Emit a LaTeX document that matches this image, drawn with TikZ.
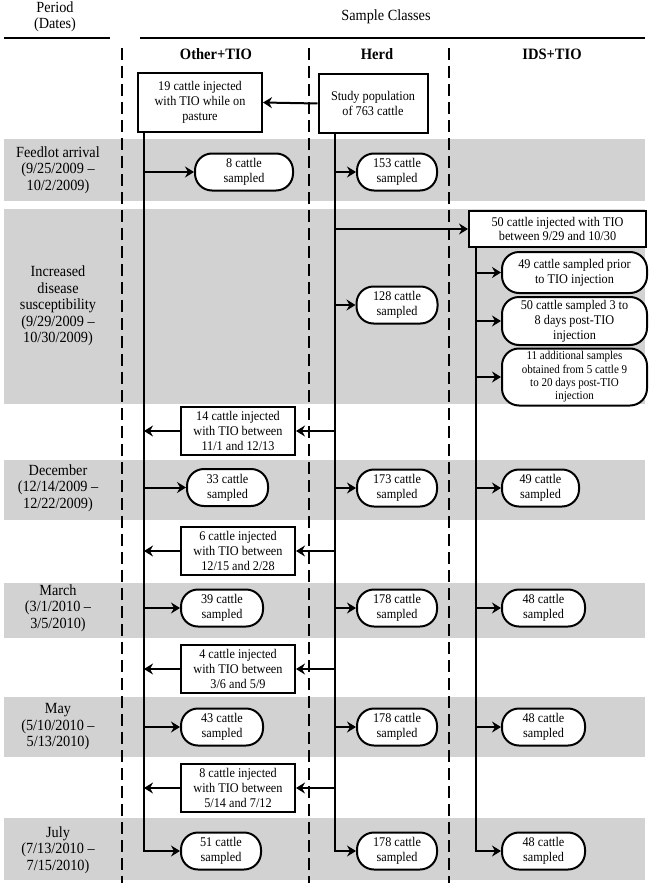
\documentclass[tikz,border=0pt]{standalone}
\usepackage{fontspec}
\setmainfont{Liberation Serif}[FakeStretch=0.92]
\usetikzlibrary{arrows.meta}
\definecolor{bandgray}{RGB}{210,210,210}
\newcommand\boxfnt{\fontsize{13.3}{14.8}\selectfont}
\newcommand\smallfnt{\fontsize{12}{13.3}\selectfont}
\newcommand\bandfnt{\fontsize{15.5}{16.5}\selectfont}
\newcommand\hdrfnt{\fontsize{15.8}{17}\selectfont\bfseries}
\begin{document}
\begin{tikzpicture}[x=1pt,y=-1pt,
  sq/.style={draw,line width=2pt,fill=white,align=center,inner sep=0pt,font=\boxfnt},
  rr/.style={sq,rounded corners=17pt},
  smp/.style={rr,minimum height=37pt},
  gapbox/.style={sq,minimum width=114pt,minimum height=48pt},
  lbl/.style={align=center,font=\bandfnt,inner sep=0pt},
  hdr/.style={font=\hdrfnt,inner sep=0pt},
  arr/.style={line width=2pt,line join=miter,-{Stealth[length=9pt,width=11pt,inset=3pt]}},
  rulebar/.style={line width=2.5pt},
  sep/.style={line width=2.5pt,dash pattern=on 12pt off 6pt},
  band/.style={fill=bandgray}]

\useasboundingbox (0,0) rectangle (650,883);

% bands
\fill[band] (4,139) rectangle (645,201);
\fill[band] (4,209) rectangle (645,404);
\fill[band] (4,460) rectangle (645,520);
\fill[band] (4,583) rectangle (645,638);
\fill[band] (4,697) rectangle (645,757);
\fill[band] (4,818) rectangle (645,880);

% dashed separators
\coordinate (s1t) at (122,48); \coordinate (s1b) at (122,883);
\coordinate (s2t) at (309,48); \coordinate (s2b) at (309,883);
\coordinate (s3t) at (449,48); \coordinate (s3b) at (449,883);
\draw[sep] (s1t) -- (s1b);
\draw[sep] (s2t) -- (s2b);
\draw[sep] (s3t) -- (s3b);

% headers
\node[lbl] (per) at (55,17) {Period\\(Dates)};
\node[lbl] (sc) at (386,17) {Sample Classes};
\coordinate (pl1) at (4,38); \coordinate (pl2) at (110,38);
\coordinate (sl1) at (140,38); \coordinate (sl2) at (645,38);
\draw[rulebar] (pl1) -- (pl2);
\draw[rulebar] (sl1) -- (sl2);
\node[hdr] (c1) at (216,54) {Other+TIO};
\node[hdr] (c2) at (377,54) {Herd};
\node[hdr] (c3) at (552,54) {IDS+TIO};

% period labels
\node[lbl] (p1) at (58,170) {Feedlot arrival\\(9/25/2009 --\\10/2/2009)};
\node[lbl] (p2) at (58,306) {Increased\\disease\\susceptibility\\(9/29/2009 --\\10/30/2009)};
\node[lbl] (p3) at (58,488) {December\\(12/14/2009 --\\12/22/2009)};
\node[lbl] (p4) at (58,608) {March\\(3/1/2010 --\\3/5/2010)};
\node[lbl] (p5) at (58,727) {May\\(5/10/2010 --\\5/13/2010)};
\node[lbl] (p6) at (58,850) {July\\(7/13/2010 --\\7/15/2010)};

% top boxes
\node[sq,minimum width=124pt,minimum height=59pt] (A) at (200,102.5) {19 cattle injected\\with TIO while on\\pasture};
\node[sq,minimum width=109pt,minimum height=59pt] (B) at (373,103.5) {Study population\\of 763 cattle};

% Other+TIO column
\node[smp,minimum width=98pt] (O1) at (244,172) {8 cattle\\sampled};
\node[gapbox] (G1) at (238,431) {14 cattle injected\\with TIO between\\11/1 and 12/13};
\node[smp,minimum width=81pt] (O2) at (227.5,487.5) {33 cattle\\sampled};
\node[gapbox] (G2) at (238,551) {6 cattle injected\\with TIO between\\12/15 and 2/28};
\node[smp,minimum width=82pt] (O3) at (222,608) {39 cattle\\sampled};
\node[gapbox] (G3) at (238,669) {4 cattle injected\\with TIO between\\3/6 and 5/9};
\node[smp,minimum width=82pt] (O4) at (222,727) {43 cattle\\sampled};
\node[gapbox] (G4) at (238,788) {8 cattle injected\\with TIO between\\5/14 and 7/12};
\node[smp,minimum width=80pt] (O5) at (221,851) {51 cattle\\sampled};

% Herd column
\node[smp,minimum width=80pt] (H1) at (397,172) {153 cattle\\sampled};
\node[smp,minimum width=81pt] (H2) at (397,305) {128 cattle\\sampled};
\node[smp,minimum width=80pt] (H3) at (397,488) {173 cattle\\sampled};
\node[smp,minimum width=80pt] (H4) at (397,608) {178 cattle\\sampled};
\node[smp,minimum width=80pt] (H5) at (397,727) {178 cattle\\sampled};
\node[smp,minimum width=80pt] (H6) at (397,851) {178 cattle\\sampled};

% IDS+TIO column
\node[sq,minimum width=177pt,minimum height=36pt] (I0) at (557.5,229) {50 cattle injected with TIO\\between 9/29 and 10/30};
\node[rr,minimum width=145pt,minimum height=41pt] (I1) at (574.5,272.5) {49 cattle sampled prior\\to TIO injection};
\node[rr,minimum width=145pt,minimum height=48pt] (I2) at (574.5,321) {50 cattle sampled 3 to\\8 days post-TIO\\injection};
\node[rr,minimum width=145pt,minimum height=57pt,font=\smallfnt] (I3) at (574.5,377) {11 additional samples\\obtained from 5 cattle 9\\to 20 days post-TIO\\injection};
\node[smp,minimum width=77pt] (I4) at (540.5,488) {49 cattle\\sampled};
\node[smp,minimum width=83pt] (I5) at (543.5,608) {48 cattle\\sampled};
\node[smp,minimum width=83pt] (I6) at (543.5,727) {48 cattle\\sampled};
\node[smp,minimum width=83pt] (I7) at (543.5,851) {48 cattle\\sampled};

% trunk coordinates
\coordinate (ot) at ([xshift=7pt]A.south west);
\coordinate (ht) at ([xshift=17pt]B.south west);
\coordinate (it) at ([xshift=8pt]I0.south west);

% connectors
\draw[arr] (B.west) -- (A.east);

\draw[arr] (ot) |- (O5.west);
\foreach \n in {O1,O2,O3,O4} \draw[arr] (ot |- \n.west) -- (\n.west);

\draw[arr] (ht) |- (H6.west);
\foreach \n in {H1,H2,H3,H4,H5} \draw[arr] (ht |- \n.west) -- (\n.west);
\draw[arr] (ht |- I0.west) -- (I0.west);

\foreach \n in {G1,G2,G3,G4} {
  \draw[arr] (ht |- \n.east) -- (\n.east);
  \draw[arr] (\n.west) -- (ot |- \n.west);
}

\draw[arr] (it) |- (I7.west);
\foreach \n in {I1,I2,I3,I4,I5,I6} \draw[arr] (it |- \n.west) -- (\n.west);
\end{tikzpicture}
\end{document}
